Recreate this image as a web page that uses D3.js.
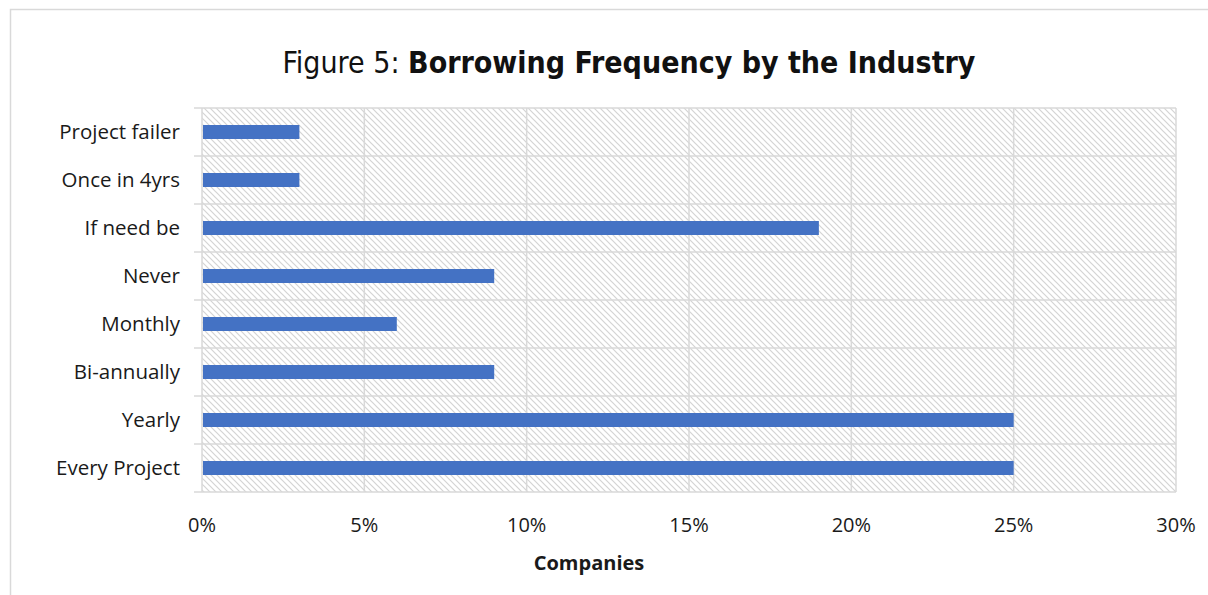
<!DOCTYPE html>
<html><head><meta charset="utf-8">
<script src="https://cdn.jsdelivr.net/npm/d3@7"></script>
<style>body{margin:0;background:#fff}svg{display:block}</style>
</head><body>
<svg id="c" width="1208" height="595"></svg>
<script>
const categories = ["Project failer","Once in 4yrs","If need be","Never","Monthly","Bi-annually","Yearly","Every Project"];
const values = [3,3,19,9,6,9,25,25];
const xTicks = [0,5,10,15,20,25,30];
const titlePrefix = "Figure 5: ";
const titleMain = "Borrowing Frequency by the Industry";
const xAxisTitle = "Companies";

const svg = d3.select("#c");
const m = {left:202, right:1176, top:108, bottom:492};
const labelFont = "'Open Sans', sans-serif";

const defs = svg.append("defs");
const pat = defs.append("pattern").attr("id","hatch").attr("patternUnits","userSpaceOnUse")
  .attr("width",6).attr("height",6);
pat.append("rect").attr("width",6).attr("height",6).attr("fill","#fff");
pat.append("path").attr("d","M-1,-1 L7,7 M-1,5 L1,7 M5,-1 L7,1").attr("stroke","#d4d4d4").attr("stroke-width",1.2);

// outer border
svg.append("rect").attr("x",10.5).attr("y",9.5).attr("width",1210).attr("height",600)
  .attr("fill","none").attr("stroke","#d9d9d9").attr("stroke-width",1.5);

const x = d3.scaleLinear().domain([0,30]).range([m.left,m.right]);
const y = d3.scaleBand().domain(categories).range([m.top,m.bottom]);

svg.append("rect").attr("x",m.left).attr("y",m.top).attr("width",m.right-m.left).attr("height",m.bottom-m.top).attr("fill","url(#hatch)");

// gridlines
svg.append("g").selectAll("line").data(xTicks).join("line")
  .attr("x1",d=>x(d)).attr("x2",d=>x(d)).attr("y1",m.top).attr("y2",m.bottom)
  .attr("stroke","#d9d9d9").attr("stroke-width",1.5);
const bounds = categories.map(c=>y(c)).concat([m.bottom]);
svg.append("g").selectAll("line").data(bounds).join("line")
  .attr("x1",m.left-8).attr("x2",m.right).attr("y1",d=>d).attr("y2",d=>d)
  .attr("stroke","#d9d9d9").attr("stroke-width",1.5);

// bars
const bh = 14;
svg.append("g").selectAll("rect").data(values).join("rect")
  .attr("x",x(0)+1).attr("y",(d,i)=>y(categories[i])+y.bandwidth()/2-bh/2)
  .attr("width",d=>x(d)-x(0)-1).attr("height",bh).attr("fill","#4472c4");

// category labels
svg.append("g").selectAll("text").data(categories).join("text")
  .attr("x",180).attr("y",d=>y(d)+y.bandwidth()/2).attr("dy","0.35em")
  .attr("text-anchor","end").attr("font-family",labelFont).attr("font-size",20.5).attr("fill","#1a1a1a")
  .text(d=>d);

// x tick labels
svg.append("g").selectAll("text").data(xTicks).join("text")
  .attr("x",d=>x(d)).attr("y",525).attr("dy","0.35em")
  .attr("text-anchor","middle").attr("font-family",labelFont).attr("font-size",20).attr("fill","#1a1a1a")
  .text(d=>d3.format(".0%")(d/100));

svg.append("text").attr("x",589).attr("y",563).attr("dy","0.35em")
  .attr("text-anchor","middle").attr("font-family",labelFont).attr("font-weight","bold").attr("font-size",20)
  .attr("fill","#1a1a1a").text(xAxisTitle);

const t = svg.append("text").attr("x",629).attr("y",62).attr("dy","0.35em").attr("text-anchor","middle")
  .attr("font-family","DejaVu Sans Condensed, sans-serif").attr("font-size",30).attr("fill","#111");
t.append("tspan").text(titlePrefix);
t.append("tspan").attr("font-weight","bold").text(titleMain);
</script>
</body></html>
